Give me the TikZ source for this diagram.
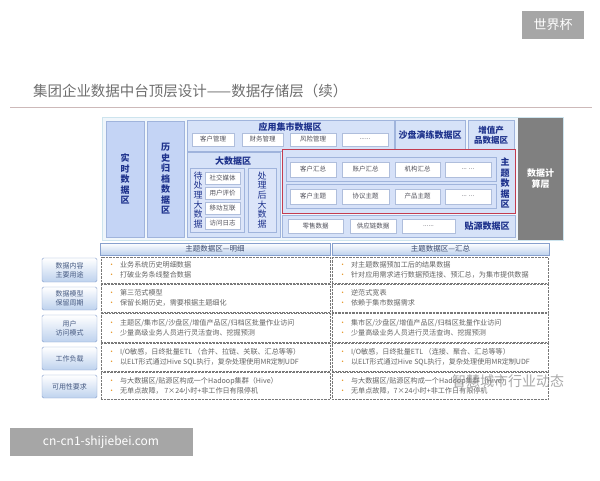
\documentclass[tikz,border=0pt]{standalone}
\usepackage{fontspec}
\setmainfont{Noto Sans CJK SC}
\usepackage{tikz}
\usetikzlibrary{positioning}

\definecolor{framefill}{RGB}{240,246,251}
\definecolor{frameline}{RGB}{205,228,238}
\definecolor{zonefill}{RGB}{214,226,248}
\definecolor{zoneline}{RGB}{160,180,220}
\definecolor{colfill}{RGB}{196,212,245}
\definecolor{deepblue}{RGB}{30,50,140}
\definecolor{btnline}{RGB}{175,190,220}
\definecolor{btntext}{RGB}{80,80,90}
\definecolor{redline}{RGB}{195,60,80}
\definecolor{calcgray}{RGB}{128,128,128}
\definecolor{tabblue}{RGB}{190,210,238}
\definecolor{tabline}{RGB}{135,160,205}
\definecolor{tabtext}{RGB}{60,75,110}
\definecolor{labtext}{RGB}{70,90,130}
\definecolor{cellline}{RGB}{120,120,120}
\definecolor{celltext}{RGB}{100,100,100}
\definecolor{bulletor}{RGB}{230,150,40}
\definecolor{taggray}{RGB}{166,166,166}
\definecolor{titlegray}{RGB}{110,110,110}
\definecolor{rulecol}{RGB}{205,185,185}

\newcommand{\bul}{{\color{bulletor}\textbullet}\hspace{5pt}}

\begin{document}
\begin{tikzpicture}[x=1pt,y=-1pt,
  every node/.style={inner sep=0pt,outer sep=0pt},
  zone/.style={draw=zoneline,fill=zonefill,anchor=north west},
  colbox/.style={zone,fill=colfill,text=deepblue,align=center,font=\fontsize{9}{10.5}\selectfont\bfseries},
  btn/.style={draw=btnline,fill=white,anchor=north west,text=btntext,font=\fontsize{6.5}{8}\selectfont},
  vtxt/.style={align=center,text=deepblue,font=\fontsize{9}{10}\selectfont\bfseries},
  hdr/.style={draw=tabline,top color=white,bottom color=tabblue,anchor=north west,text=tabtext,font=\fontsize{7.5}{9}\selectfont},
  lbl/.style={hdr,rounded corners=1.5pt,align=center,text=labtext,font=\fontsize{7}{9}\selectfont},
  cell/.style={draw=cellline,densely dotted,fill=white,anchor=north west},
  celltxt/.style={align=left,text=celltext,font=\fontsize{7.1}{10}\selectfont},
  tag/.style={fill=taggray,text=white}]
\useasboundingbox (0,0) rectangle (600,480);

% tags and title
\node[tag,minimum width=62,minimum height=28,font=\fontsize{13}{15}\selectfont] (wc) at (553,25) {世界杯};
\node[anchor=west,text=titlegray,font=\fontsize{14.5}{18}\selectfont] (title) at (33,91) {集团企业数据中台顶层设计——数据存储层（续）};
\draw[rulecol,line width=1pt] (10,107) -- (592,107);

% storage layer
\node[draw=frameline,fill=framefill,anchor=north west,minimum width=461,minimum height=123] (frame) at (102,117) {};
\node[fill=calcgray,anchor=north west,minimum width=45,minimum height=122,text=white,align=center,font=\fontsize{9}{11}\selectfont\bfseries] (calc) at (518,118) {数据计\\算层};
\node[colbox,minimum width=38,minimum height=116] (rt) at (106,121) {实\\时\\数\\据\\区};
\node[colbox,minimum width=37,minimum height=116] (hist) at (147,121) {历\\史\\归\\档\\数\\据\\区};

\node[zone,minimum width=207,minimum height=31] (mart) at (187,120) {};
\node[vtxt] (martname) at (290,127) {应用集市数据区};
\node[btn,minimum width=42,minimum height=13] (m1) at (192,133) {客户管理};
\node[btn,minimum width=41,minimum height=13] (m2) at (242,133) {财务管理};
\node[btn,minimum width=46,minimum height=13] (m3) at (290,133) {风险管理};
\node[btn,minimum width=46,minimum height=13] (m4) at (342,133) {......};
\node[zone,minimum width=70,minimum height=31,text=deepblue,font=\fontsize{9}{10.5}\selectfont\bfseries] (sand) at (395,120) {沙盘演练数据区};
\node[zone,minimum width=46,minimum height=31,align=center,text=deepblue,font=\fontsize{8.5}{10}\selectfont\bfseries] (vap) at (468,120) {增值产\\品数据区};

\node[zone,minimum width=93,minimum height=85] (big) at (187,152) {};
\node[vtxt] (bigname) at (233,161) {大数据区};
\node[zone,fill=colfill!60,minimum width=54,minimum height=64] (rawgrp) at (190,168) {};
\node[align=center,text=deepblue,font=\fontsize{9}{9.7}\selectfont] (raw) at (198,200) {待\\处\\理\\大\\数\\据};
\node[btn,minimum width=35,minimum height=12] (b1) at (205,172) {社交媒体};
\node[btn,minimum width=35,minimum height=12] (b2) at (205,187) {用户评价};
\node[btn,minimum width=35,minimum height=12] (b3) at (205,202) {移动互联};
\node[btn,minimum width=35,minimum height=12] (b4) at (205,217) {访问日志};
\node[zone,fill=colfill!60,minimum width=28,minimum height=64,align=center,text=deepblue,font=\fontsize{9}{9.7}\selectfont] (done) at (248,168) {处\\理\\后\\大\\数\\据};

\node[zone,draw=redline,line width=0.8pt,minimum width=233,minimum height=64] (subj) at (282,149) {};
\node[zone,fill=colfill!70,minimum width=210,minimum height=24] (sumrow) at (286,157) {};
\node[zone,fill=colfill!70,minimum width=210,minimum height=24] (toprow) at (286,184) {};
\node[btn,minimum width=46,minimum height=15] (s1) at (290,162) {客户汇总};
\node[btn,minimum width=47,minimum height=15] (s2) at (342,162) {账户汇总};
\node[btn,minimum width=45,minimum height=15] (s3) at (395,162) {机构汇总};
\node[btn,minimum width=46,minimum height=15] (s4) at (445,162) {... ...};
\node[btn,minimum width=46,minimum height=15] (t1) at (290,189) {客户主题};
\node[btn,minimum width=47,minimum height=15] (t2) at (342,189) {协议主题};
\node[btn,minimum width=45,minimum height=15] (t3) at (395,189) {产品主题};
\node[btn,minimum width=46,minimum height=15] (t4) at (445,189) {... ...};
\node[vtxt,font=\fontsize{9}{10.5}\selectfont\bfseries] (subjname) at (505,183) {主\\题\\数\\据\\区};

\node[zone,minimum width=233,minimum height=22] (src) at (282,215) {};
\node[btn,minimum width=55,minimum height=14] (p1) at (288,219) {零售数据};
\node[btn,minimum width=46,minimum height=14] (p2) at (350,219) {供应链数据};
\node[btn,minimum width=53,minimum height=14] (p3) at (402,219) {......};
\node[vtxt] (srcname) at (487,226) {贴源数据区};

% table
\node[hdr,minimum width=230,minimum height=12] (hl) at (100,243) {主题数据区—明细};
\node[hdr,minimum width=217,minimum height=12] (hr) at (332,243) {主题数据区—汇总};

\node[lbl,minimum width=55,minimum height=24] (lb1) at (42,258) {数据内容\\主要用途};
\node[lbl,minimum width=55,minimum height=23] (lb2) at (42,287) {数据模型\\保留周期};
\node[lbl,minimum width=55,minimum height=27] (lb3) at (42,315) {用户\\访问模式};
\node[lbl,minimum width=55,minimum height=23] (lb4) at (42,347) {工作负载};
\node[lbl,minimum width=55,minimum height=23] (lb5) at (42,375) {可用性要求};

\node[cell,minimum width=229,minimum height=26] (cl1) at (101,257) {};
\node[cell,minimum width=229,minimum height=28] (cl2) at (101,284) {};
\node[cell,minimum width=229,minimum height=29] (cl3) at (101,313) {};
\node[cell,minimum width=229,minimum height=28] (cl4) at (101,343) {};
\node[cell,minimum width=229,minimum height=27] (cl5) at (101,372) {};
\node[cell,minimum width=216,minimum height=26] (cr1) at (332,257) {};
\node[cell,minimum width=216,minimum height=28] (cr2) at (332,284) {};
\node[cell,minimum width=216,minimum height=29] (cr3) at (332,313) {};
\node[cell,minimum width=216,minimum height=28] (cr4) at (332,343) {};
\node[cell,minimum width=216,minimum height=27] (cr5) at (332,372) {};

\node[celltxt,anchor=west,right=7pt of cl1.west] (tl1) {\bul 业务系统历史明细数据\\\bul 打破业务条线整合数据};
\node[celltxt,anchor=west,right=7pt of cl2.west] (tl2) {\bul 第三范式模型\\\bul 保留长期历史，需要根据主题细化};
\node[celltxt,anchor=west,right=7pt of cl3.west] (tl3) {\bul 主题区/集市区/沙盘区/增值产品区/归档区批量作业访问\\\bul 少量高级业务人员进行灵活查询、挖掘预测};
\node[celltxt,anchor=west,right=7pt of cl4.west] (tl4) {\bul I/O敏感，日终批量ETL （合并、拉链、关联、汇总等等）\\\bul 以ELT形式通过Hive SQL执行，复杂处理使用MR定制UDF};
\node[celltxt,anchor=west,right=7pt of cl5.west] (tl5) {\bul 与大数据区/贴源区构成一个Hadoop集群（Hive）\\\bul 无单点故障， 7×24小时+非工作日有限停机};
\node[celltxt,anchor=west,right=7pt of cr1.west] (tr1) {\bul 对主题数据预加工后的结果数据\\\bul 针对应用需求进行数据预连接、预汇总，为集市提供数据};
\node[celltxt,anchor=west,right=7pt of cr2.west] (tr2) {\bul 逆范式宽表\\\bul 依赖于集市数据需求};
\node[celltxt,anchor=west,right=7pt of cr3.west] (tr3) {\bul 集市区/沙盘区/增值产品区/归档区批量作业访问\\\bul 少量高级业务人员进行灵活查询、挖掘预测};
\node[celltxt,anchor=west,right=7pt of cr4.west] (tr4) {\bul I/O敏感，日终批量ETL （连接、聚合、汇总等等）\\\bul 以ELT形式通过Hive SQL执行，复杂处理使用MR定制UDF};
\node[celltxt,anchor=west,right=7pt of cr5.west] (tr5) {\bul 与大数据区/贴源区构成一个Hadoop集群（Hive）\\\bul 无单点故障，7×24小时+非工作日有限停机};

% watermarks
\node[text=black!45,opacity=0.75,font=\fontsize{14}{16}\selectfont] (wm) at (508,381) {智慧城市行业动态};
\node[tag,minimum width=183,minimum height=28,font=\fontsize{12}{14}\selectfont] (site) at (101,442) {cn-cn1-shijiebei.com};
\end{tikzpicture}
\end{document}
